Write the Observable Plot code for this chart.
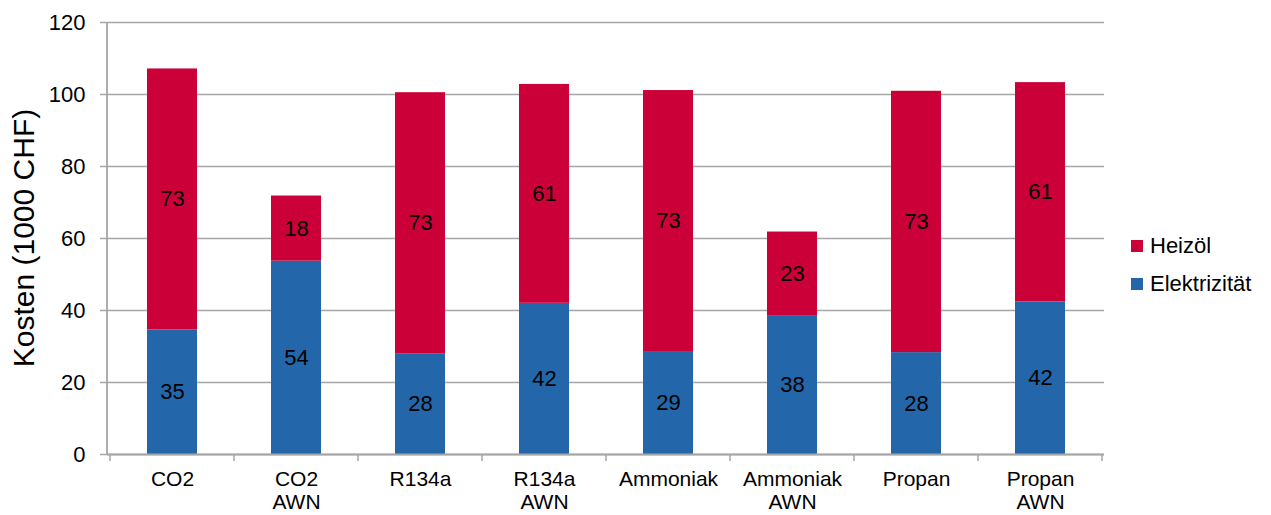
<!DOCTYPE html>
<html>
<head>
<meta charset="utf-8">
<script src="https://cdn.jsdelivr.net/npm/d3@7"></script>
<script src="https://cdn.jsdelivr.net/npm/@observablehq/plot@0.6"></script>
<style>
  html, body { margin: 0; padding: 0; background: #fff; }
  #wrap { position: relative; width: 1271px; height: 515px; font-family: "Liberation Sans", Arial, sans-serif; }
  .leg { position: absolute; left: 1131px; height: 24px; display: flex; align-items: center; font-size: 22px; color: #000; }
  .leg span.sw { display: inline-block; width: 12px; height: 12px; margin-right: 7px; }
</style>
</head>
<body>
<div id="wrap"></div>
<script>
const categories = ["CO2", "CO2\nAWN", "R134a", "R134a\nAWN", "Ammoniak", "Ammoniak\nAWN", "Propan", "Propan\nAWN"];
const elektrizitaet = [34.6, 53.7, 28.0, 42.0, 28.6, 38.4, 28.3, 42.4];
const heizoel = [72.5, 18.1, 72.5, 60.8, 72.5, 23.4, 72.6, 60.9];
const seriesNames = ["Elektrizität", "Heizöl"];
const seriesColors = ["#2366aa", "#cc0038"];
const yTicks = [0, 20, 40, 60, 80, 100, 120];
const yTitle = "Kosten (1000 CHF)";

const rows = [];
categories.forEach((c, i) => rows.push({cat: c, type: seriesNames[0], value: elektrizitaet[i]}));
categories.forEach((c, i) => rows.push({cat: c, type: seriesNames[1], value: heizoel[i]}));

const gray = "#a6a6a6";

function frameMark(index, scales, values, dimensions) {
  const {width, height, marginLeft, marginRight, marginTop, marginBottom} = dimensions;
  const g = d3.create("svg:g");
  const x = scales.x;
  const bw = x.bandwidth ? x.bandwidth() : 0;
  const step = x(categories[1]) - x(categories[0]);
  const bounds = categories.map(c => x(c) + bw / 2 - step / 2);
  bounds.push(x(categories[categories.length - 1]) + bw / 2 + step / 2);
  const y0 = scales.y(0);
  g.append("line").attr("x1", marginLeft).attr("x2", marginLeft)
    .attr("y1", scales.y(120)).attr("y2", y0)
    .attr("stroke", gray).attr("stroke-width", 1.8);
  bounds.forEach(b => {
    g.append("line").attr("x1", b).attr("x2", b).attr("y1", y0).attr("y2", y0 + 7)
      .attr("stroke", gray).attr("stroke-width", 1.5);
  });
  const cy = (marginTop + height - marginBottom) / 2;
  g.append("text").attr("transform", `translate(34,${cy}) rotate(-90)`)
    .attr("text-anchor", "middle").attr("font-size", 30).attr("fill", "#000")
    .text(yTitle);
  return g.node();
}

const chart = Plot.plot({
  width: 1271,
  height: 515,
  marginLeft: 107,
  marginRight: 167,
  marginTop: 22,
  marginBottom: 61,
  style: {fontFamily: "'Liberation Sans', Arial, sans-serif", fontSize: "22px", color: "#000", background: "#fff"},
  x: {domain: categories, paddingInner: 0.6, paddingOuter: 0.3, label: null},
  y: {domain: [0, 120], label: null},
  color: {domain: seriesNames, range: seriesColors},
  marks: [
    Plot.gridY(yTicks, {stroke: gray, strokeOpacity: 1, strokeWidth: 1.3}),
    Plot.axisY(yTicks, {text: null, tickSize: 7, stroke: gray, strokeWidth: 1.5, label: null}),
    Plot.axisY(yTicks, {tickSize: 0, tickPadding: 22, fontSize: 22, fill: "#000", label: null}),
    Plot.axisX({tickSize: 0, tickPadding: 15, fontSize: 21, lineHeight: 1.1, fill: "#000", label: null}),
    Plot.barY(rows, Plot.stackY({x: "cat", y: "value", z: "type", fill: "type", order: seriesNames})),
    Plot.text(rows, Plot.stackY({x: "cat", y: "value", z: "type", order: seriesNames,
      text: d => String(Math.round(d.value)), fontSize: 22, fill: "#000"})),
    Plot.ruleY([0], {stroke: gray, strokeWidth: 2}),
    frameMark
  ]
});

const wrap = document.getElementById("wrap");
wrap.appendChild(chart);

const legendItems = [
  {name: seriesNames[1], color: seriesColors[1], top: 234},
  {name: seriesNames[0], color: seriesColors[0], top: 272}
];
legendItems.forEach(it => {
  const d = document.createElement("div");
  d.className = "leg";
  d.style.top = it.top + "px";
  const sw = document.createElement("span");
  sw.className = "sw";
  sw.style.background = it.color;
  d.appendChild(sw);
  d.appendChild(document.createTextNode(it.name));
  wrap.appendChild(d);
});
</script>
</body>
</html>
